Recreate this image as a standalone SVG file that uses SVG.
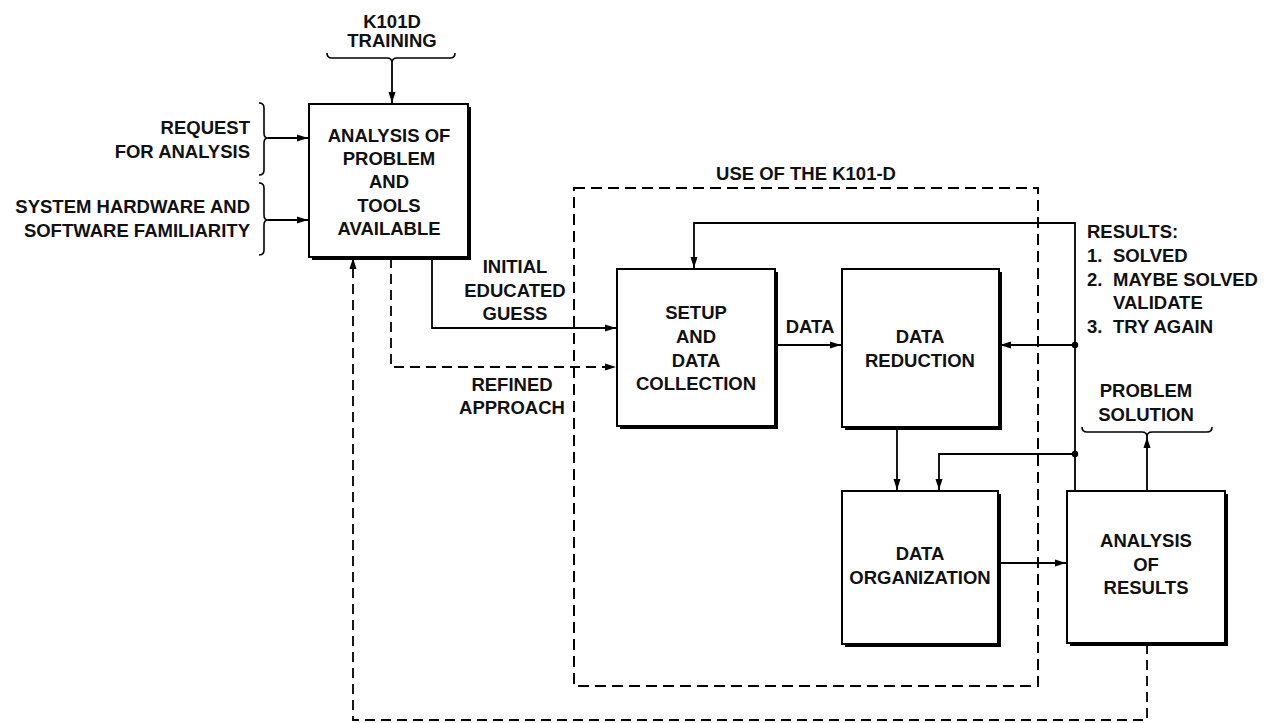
<svg xmlns="http://www.w3.org/2000/svg" width="1275" height="723" viewBox="0 0 1275 723">
<style>
.bg{fill:#fff}
.box{fill:#fff;stroke:#000;stroke-width:2}
.sh{fill:#000}
.t{font-family:"Liberation Sans",Arial,Helvetica,sans-serif;font-size:18.5px;font-weight:bold;fill:#111}
.c{text-anchor:middle}
.e{text-anchor:end}
.ln{fill:none;stroke:#000;stroke-width:1.8}
.dash{stroke-dasharray:10 6}
.brace{fill:none;stroke:#000;stroke-width:1.6}
.dot{fill:#000}
</style>
<defs>
<marker id="arr" markerUnits="userSpaceOnUse" markerWidth="11" markerHeight="8" refX="11" refY="4" orient="auto">
<path d="M0,0.5 L11,4 L0,7.5 z" fill="#000"/>
</marker>
</defs>
<rect class="bg" x="0" y="0" width="1275" height="723"/>

<g id="container-use">
<rect x="574" y="188" width="464" height="498" fill="none" stroke="#000" stroke-width="2" stroke-dasharray="11 6"/>
<text class="t c" x="806" y="180">USE OF THE K101-D</text>
</g>

<g id="input-training">
<text class="t c" x="392" y="28">K101D</text>
<text class="t c" x="392" y="47">TRAINING</text>
<path class="brace" d="M327,53 q0,5 5,5 H387 q5,0 5,5 q0,-5 5,-5 H450 q5,0 5,-5"/>
</g>

<g id="input-request">
<text class="t e" x="250" y="134">REQUEST</text>
<text class="t e" x="250" y="158">FOR ANALYSIS</text>
<path class="brace" d="M259,103 q5,0 5,5 V133 q0,5 4,5 q-4,0 -4,5 V170 q0,5 -5,5"/>
</g>

<g id="input-familiarity">
<text class="t e" x="250" y="213">SYSTEM HARDWARE AND</text>
<text class="t e" x="250" y="237">SOFTWARE FAMILIARITY</text>
<path class="brace" d="M259,183 q5,0 5,5 V215 q0,5 4,5 q-4,0 -4,5 V250 q0,5 -5,5"/>
</g>

<g id="node-analysis-problem">
<rect class="sh" x="312" y="107" width="159" height="153"/>
<rect class="box" x="309" y="104" width="159" height="153"/>
<text class="t c" x="389" y="142">ANALYSIS OF</text>
<text class="t c" x="389" y="165">PROBLEM</text>
<text class="t c" x="389" y="188">AND</text>
<text class="t c" x="389" y="212">TOOLS</text>
<text class="t c" x="389" y="235">AVAILABLE</text>
</g>

<g id="node-setup">
<rect class="sh" x="620" y="272" width="158" height="157"/>
<rect class="box" x="617" y="269" width="158" height="157"/>
<text class="t c" x="696" y="319">SETUP</text>
<text class="t c" x="696" y="343">AND</text>
<text class="t c" x="696" y="367">DATA</text>
<text class="t c" x="696" y="390">COLLECTION</text>
</g>

<g id="node-data-reduction">
<rect class="sh" x="845" y="272" width="157" height="158"/>
<rect class="box" x="842" y="269" width="157" height="158"/>
<text class="t c" x="920" y="343">DATA</text>
<text class="t c" x="920" y="367">REDUCTION</text>
</g>

<g id="node-data-organization">
<rect class="sh" x="845" y="494" width="156" height="153"/>
<rect class="box" x="842" y="491" width="156" height="153"/>
<text class="t c" x="920" y="560">DATA</text>
<text class="t c" x="920" y="584">ORGANIZATION</text>
</g>

<g id="node-analysis-results">
<rect class="sh" x="1070" y="494" width="158" height="152"/>
<rect class="box" x="1067" y="491" width="158" height="152"/>
<text class="t c" x="1146" y="547">ANALYSIS</text>
<text class="t c" x="1146" y="571">OF</text>
<text class="t c" x="1146" y="594">RESULTS</text>
</g>

<g id="label-results">
<text class="t" x="1087" y="238">RESULTS:</text>
<text class="t" y="262"><tspan x="1087">1.</tspan><tspan x="1113">SOLVED</tspan></text>
<text class="t" y="286"><tspan x="1087">2.</tspan><tspan x="1113">MAYBE SOLVED</tspan></text>
<text class="t" x="1113" y="309">VALIDATE</text>
<text class="t" y="333"><tspan x="1087">3.</tspan><tspan x="1113">TRY AGAIN</tspan></text>
</g>

<g id="output-solution">
<text class="t c" x="1146" y="397">PROBLEM</text>
<text class="t c" x="1146" y="421">SOLUTION</text>
<path class="brace" d="M1082,427 q0,5 5,5 H1142 q5,0 5,5 q0,-5 5,-5 H1207 q5,0 5,-5"/>
</g>

<g id="connectors">
<path class="ln" d="M392,63 V103" marker-end="url(#arr)"/>
<path class="ln" d="M268,138 H308" marker-end="url(#arr)"/>
<path class="ln" d="M268,220 H308" marker-end="url(#arr)"/>
<path class="ln" d="M432,258 V328 H616" marker-end="url(#arr)"/>
<path class="ln dash" d="M391,258 V367 H616" marker-end="url(#arr)"/>
<path class="ln" d="M777,345 H841" marker-end="url(#arr)"/>
<path class="ln" d="M1075,490 V223 H694 V268" marker-end="url(#arr)"/>
<path class="ln" d="M1075,345 H1000" marker-end="url(#arr)"/>
<path class="ln" d="M1075,454 H939 V490" marker-end="url(#arr)"/>
<circle class="dot" cx="1075" cy="345" r="3.2"/>
<circle class="dot" cx="1075" cy="454" r="3.2"/>
<path class="ln" d="M897,428 V490" marker-end="url(#arr)"/>
<path class="ln" d="M999,563 H1066" marker-end="url(#arr)"/>
<path class="ln" d="M1147,490 V437" marker-end="url(#arr)"/>
<path class="ln dash" d="M1147,644 V720 H353 V258" marker-end="url(#arr)"/>
<text class="t c" x="515" y="273">INITIAL</text>
<text class="t c" x="515" y="297">EDUCATED</text>
<text class="t c" x="515" y="320">GUESS</text>
<text class="t c" x="512" y="391">REFINED</text>
<text class="t c" x="512" y="414">APPROACH</text>
<text class="t c" x="810" y="333">DATA</text>
</g>
</svg>
